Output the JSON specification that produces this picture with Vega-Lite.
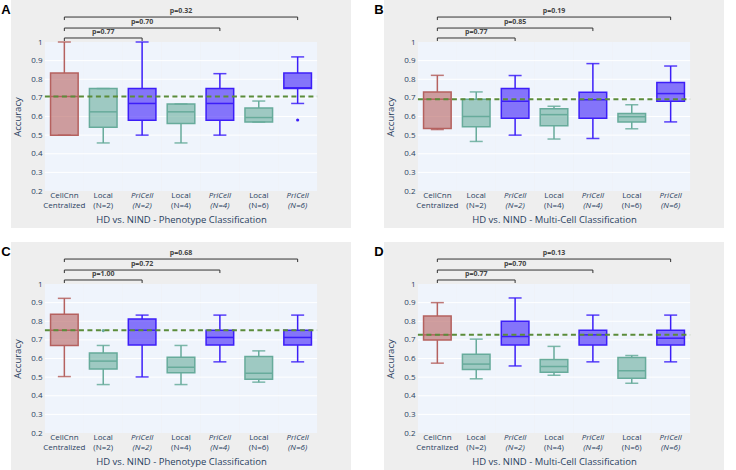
{
"$schema": "https://vega.github.io/schema/vega-lite/v6.json",
"background": "#ffffff",
"padding": {"left": 1, "top": 0, "right": 0, "bottom": 0},
"datasets": {
"boxes": [
{"panel":"A","cat":"CellCnn|Centralized","grp":"CellCnn","min":0.5,"q1":0.5,"med":0.708,"q3":0.833,"max":1.0},
{"panel":"A","cat":"Local|(N=2)","grp":"Local","min":0.458,"q1":0.542,"med":0.625,"q3":0.75,"max":0.75},
{"panel":"A","cat":"PriCell|(N=2)","grp":"PriCell","min":0.5,"q1":0.58,"med":0.67,"q3":0.75,"max":1.0},
{"panel":"A","cat":"Local|(N=4)","grp":"Local","min":0.458,"q1":0.5625,"med":0.625,"q3":0.667,"max":0.667},
{"panel":"A","cat":"PriCell|(N=4)","grp":"PriCell","min":0.5,"q1":0.58,"med":0.67,"q3":0.75,"max":0.83},
{"panel":"A","cat":"Local|(N=6)","grp":"Local","min":0.57,"q1":0.57,"med":0.594,"q3":0.645,"max":0.683},
{"panel":"A","cat":"PriCell|(N=6)","grp":"PriCell","min":0.67,"q1":0.75,"med":0.754,"q3":0.833,"max":0.92},
{"panel":"B","cat":"CellCnn|Centralized","grp":"CellCnn","min":0.53,"q1":0.536,"med":0.693,"q3":0.732,"max":0.821},
{"panel":"B","cat":"Local|(N=2)","grp":"Local","min":0.466,"q1":0.545,"med":0.6,"q3":0.693,"max":0.732},
{"panel":"B","cat":"PriCell|(N=2)","grp":"PriCell","min":0.5,"q1":0.59,"med":0.682,"q3":0.75,"max":0.82},
{"panel":"B","cat":"Local|(N=4)","grp":"Local","min":0.479,"q1":0.55,"med":0.61,"q3":0.641,"max":0.655},
{"panel":"B","cat":"PriCell|(N=4)","grp":"PriCell","min":0.482,"q1":0.59,"med":0.69,"q3":0.73,"max":0.884},
{"panel":"B","cat":"Local|(N=6)","grp":"Local","min":0.534,"q1":0.57,"med":0.598,"q3":0.616,"max":0.663},
{"panel":"B","cat":"PriCell|(N=6)","grp":"PriCell","min":0.571,"q1":0.682,"med":0.723,"q3":0.782,"max":0.871},
{"panel":"C","cat":"CellCnn|Centralized","grp":"CellCnn","min":0.503,"q1":0.67,"med":0.752,"q3":0.837,"max":0.923},
{"panel":"C","cat":"Local|(N=2)","grp":"Local","min":0.46,"q1":0.543,"med":0.586,"q3":0.63,"max":0.67},
{"panel":"C","cat":"PriCell|(N=2)","grp":"PriCell","min":0.501,"q1":0.672,"med":0.752,"q3":0.812,"max":0.833},
{"panel":"C","cat":"Local|(N=4)","grp":"Local","min":0.46,"q1":0.523,"med":0.553,"q3":0.607,"max":0.67},
{"panel":"C","cat":"PriCell|(N=4)","grp":"PriCell","min":0.582,"q1":0.672,"med":0.713,"q3":0.752,"max":0.833},
{"panel":"C","cat":"Local|(N=6)","grp":"Local","min":0.473,"q1":0.489,"med":0.521,"q3":0.611,"max":0.641},
{"panel":"C","cat":"PriCell|(N=6)","grp":"PriCell","min":0.582,"q1":0.672,"med":0.713,"q3":0.752,"max":0.833},
{"panel":"D","cat":"CellCnn|Centralized","grp":"CellCnn","min":0.575,"q1":0.699,"med":0.727,"q3":0.828,"max":0.9},
{"panel":"D","cat":"Local|(N=2)","grp":"Local","min":0.491,"q1":0.541,"med":0.57,"q3":0.623,"max":0.704},
{"panel":"D","cat":"PriCell|(N=2)","grp":"PriCell","min":0.56,"q1":0.672,"med":0.718,"q3":0.8,"max":0.925},
{"panel":"D","cat":"Local|(N=4)","grp":"Local","min":0.51,"q1":0.526,"med":0.557,"q3":0.595,"max":0.665},
{"panel":"D","cat":"PriCell|(N=4)","grp":"PriCell","min":0.582,"q1":0.672,"med":0.727,"q3":0.752,"max":0.833},
{"panel":"D","cat":"Local|(N=6)","grp":"Local","min":0.467,"q1":0.494,"med":0.534,"q3":0.605,"max":0.616},
{"panel":"D","cat":"PriCell|(N=6)","grp":"PriCell","min":0.582,"q1":0.672,"med":0.709,"q3":0.752,"max":0.833}
],
"out": [
{"panel":"A","cat":"PriCell|(N=6)","grp":"PriCell","v":0.581},
{"panel":"C","cat":"Local|(N=2)","grp":"Local","v":0.75}
],
"pv": [
{"panel":"A","from":"CellCnn|Centralized","to":"PriCell|(N=2)","mid":"Local|(N=2)","lvl":1.0215,"p":"p=0.77"},
{"panel":"A","from":"CellCnn|Centralized","to":"PriCell|(N=4)","mid":"PriCell|(N=2)","lvl":1.075,"p":"p=0.70"},
{"panel":"A","from":"CellCnn|Centralized","to":"PriCell|(N=6)","mid":"Local|(N=4)","lvl":1.134,"p":"p=0.32"},
{"panel":"B","from":"CellCnn|Centralized","to":"PriCell|(N=2)","mid":"Local|(N=2)","lvl":1.0215,"p":"p=0.77"},
{"panel":"B","from":"CellCnn|Centralized","to":"PriCell|(N=4)","mid":"PriCell|(N=2)","lvl":1.075,"p":"p=0.85"},
{"panel":"B","from":"CellCnn|Centralized","to":"PriCell|(N=6)","mid":"Local|(N=4)","lvl":1.134,"p":"p=0.19"},
{"panel":"C","from":"CellCnn|Centralized","to":"PriCell|(N=2)","mid":"Local|(N=2)","lvl":1.0215,"p":"p=1.00"},
{"panel":"C","from":"CellCnn|Centralized","to":"PriCell|(N=4)","mid":"PriCell|(N=2)","lvl":1.075,"p":"p=0.72"},
{"panel":"C","from":"CellCnn|Centralized","to":"PriCell|(N=6)","mid":"Local|(N=4)","lvl":1.134,"p":"p=0.68"},
{"panel":"D","from":"CellCnn|Centralized","to":"PriCell|(N=2)","mid":"Local|(N=2)","lvl":1.0215,"p":"p=0.77"},
{"panel":"D","from":"CellCnn|Centralized","to":"PriCell|(N=4)","mid":"PriCell|(N=2)","lvl":1.075,"p":"p=0.70"},
{"panel":"D","from":"CellCnn|Centralized","to":"PriCell|(N=6)","mid":"Local|(N=4)","lvl":1.134,"p":"p=0.13"}
],
"grid": [{"v":0.3},{"v":0.4},{"v":0.5},{"v":0.6},{"v":0.7},{"v":0.8},{"v":0.9}]
},
"concat": [
{
"width": 340, "height": 228,
"view": {"fill": "#eeeeee", "stroke": null},
"title": "A",
"data": {"name": "boxes"},
"transform": [{"filter": "datum.panel == 'A'"}],
"layer": [
{"mark": {"type": "rect", "color": "#eff4fc"},
"encoding": {
"x": {"field": "cat", "type": "nominal", "scale": {"type": "band", "domain": ["CellCnn|Centralized","Local|(N=2)","PriCell|(N=2)","Local|(N=4)","PriCell|(N=4)","Local|(N=6)","PriCell|(N=6)"], "paddingInner": 0, "paddingOuter": 0.872},
"axis": {"title": "HD vs. NIND -  Phenotype Classification", "labelExpr": "split(datum.label, '|')", "labelFontStyle": {"condition": {"test": "indexof(datum.label, 'PriCell') == 0", "value": "italic"}, "value": "normal"}}},
"y": {"datum": 0.2, "type": "quantitative", "scale": {"domain": [0.2, 1], "range": [191, 42], "nice": false, "zero": false}, "axis": {"title": "Accuracy", "tickCount": 8, "format": ".1~f", "labelOverlap": false}},
"y2": {"datum": 1}}},
{"data": {"name": "grid"},
"mark": {"type": "rule", "color": "#ffffff", "strokeWidth": 1},
"encoding": {
"x": {"datum": "CellCnn|Centralized", "bandPosition": 0},
"x2": {"datum": "PriCell|(N=6)", "bandPosition": 1},
"y": {"field": "v", "type": "quantitative"}}},
{"encoding": {"x": {"field": "cat", "type": "nominal"}, "color": {"field": "grp", "type": "nominal", "scale": {"domain": ["CellCnn","Local","PriCell"], "range": ["#b5615f","#67ab9b","#3c1ef8"]}, "legend": null}},
"layer": [
{"mark": {"type": "rule", "strokeWidth": 1.5}, "encoding": {"y": {"field": "min", "type": "quantitative"}, "y2": {"field": "q1"}}},
{"mark": {"type": "rule", "strokeWidth": 1.5}, "encoding": {"y": {"field": "q3", "type": "quantitative"}, "y2": {"field": "max"}}},
{"mark": {"type": "tick", "size": 13, "thickness": 1.5, "opacity": 0.85}, "encoding": {"y": {"field": "min", "type": "quantitative"}}},
{"mark": {"type": "tick", "size": 13, "thickness": 1.5, "opacity": 0.85}, "encoding": {"y": {"field": "max", "type": "quantitative"}}},
{"mark": {"type": "bar", "width": {"band": 0.71}, "fillOpacity": 0.6, "strokeWidth": 1.5}, "encoding": {"y": {"field": "q1", "type": "quantitative"}, "y2": {"field": "q3"}, "stroke": {"field": "grp", "type": "nominal", "scale": {"domain": ["CellCnn","Local","PriCell"], "range": ["#b5615f","#67ab9b","#3c1ef8"]}, "legend": null}}},
{"mark": {"type": "tick", "size": 27.6, "thickness": 1.5, "opacity": 1}, "encoding": {"y": {"field": "med", "type": "quantitative"}}}
]},
{"data": {"name": "out"}, "transform": [{"filter": "datum.panel == 'A'"}],
"mark": {"type": "circle", "size": 10, "opacity": 1},
"encoding": {"x": {"field": "cat", "type": "nominal"}, "y": {"field": "v", "type": "quantitative"}, "color": {"field": "grp", "type": "nominal", "legend": null}}},
{"transform": [{"filter": "datum.grp == 'CellCnn'"}],
"mark": {"type": "rule", "color": "#5b8c3a", "strokeWidth": 2, "strokeDash": [5, 3.5]},
"encoding": {"x": {"datum": "CellCnn|Centralized", "bandPosition": 0}, "x2": {"datum": "PriCell|(N=6)", "bandPosition": 1}, "y": {"field": "med", "type": "quantitative"}}},
{"data": {"name": "pv"}, "transform": [{"filter": "datum.panel == 'A'"}],
"layer": [
{"mark": {"type": "rule", "color": "#333333", "strokeWidth": 1},
"encoding": {"x": {"field": "from", "type": "nominal"}, "x2": {"field": "to"}, "y": {"field": "lvl", "type": "quantitative"}}},
{"mark": {"type": "rule", "color": "#333333", "strokeWidth": 1, "y2Offset": 3},
"encoding": {"x": {"field": "from", "type": "nominal"}, "y": {"field": "lvl", "type": "quantitative"}, "y2": {"field": "lvl"}}},
{"mark": {"type": "rule", "color": "#333333", "strokeWidth": 1, "y2Offset": 3},
"encoding": {"x": {"field": "to", "type": "nominal"}, "y": {"field": "lvl", "type": "quantitative"}, "y2": {"field": "lvl"}}},
{"mark": {"type": "text", "fontSize": 7, "fontWeight": "bold", "color": "#444444", "baseline": "bottom", "dy": -3},
"encoding": {"x": {"field": "mid", "type": "nominal"}, "y": {"field": "lvl", "type": "quantitative"}, "text": {"field": "p"}}}
]}
]
},
{
"width": 340, "height": 228,
"view": {"fill": "#eeeeee", "stroke": null},
"title": "B",
"data": {"name": "boxes"},
"transform": [{"filter": "datum.panel == 'B'"}],
"layer": [
{"mark": {"type": "rect", "color": "#eff4fc"},
"encoding": {
"x": {"field": "cat", "type": "nominal", "scale": {"type": "band", "domain": ["CellCnn|Centralized","Local|(N=2)","PriCell|(N=2)","Local|(N=4)","PriCell|(N=4)","Local|(N=6)","PriCell|(N=6)"], "paddingInner": 0, "paddingOuter": 0.872},
"axis": {"title": "HD vs. NIND -  Multi-Cell Classification", "labelExpr": "split(datum.label, '|')", "labelFontStyle": {"condition": {"test": "indexof(datum.label, 'PriCell') == 0", "value": "italic"}, "value": "normal"}}},
"y": {"datum": 0.2, "type": "quantitative", "scale": {"domain": [0.2, 1], "range": [191, 42], "nice": false, "zero": false}, "axis": {"title": "Accuracy", "tickCount": 8, "format": ".1~f", "labelOverlap": false}},
"y2": {"datum": 1}}},
{"data": {"name": "grid"},
"mark": {"type": "rule", "color": "#ffffff", "strokeWidth": 1},
"encoding": {
"x": {"datum": "CellCnn|Centralized", "bandPosition": 0},
"x2": {"datum": "PriCell|(N=6)", "bandPosition": 1},
"y": {"field": "v", "type": "quantitative"}}},
{"encoding": {"x": {"field": "cat", "type": "nominal"}, "color": {"field": "grp", "type": "nominal", "scale": {"domain": ["CellCnn","Local","PriCell"], "range": ["#b5615f","#67ab9b","#3c1ef8"]}, "legend": null}},
"layer": [
{"mark": {"type": "rule", "strokeWidth": 1.5}, "encoding": {"y": {"field": "min", "type": "quantitative"}, "y2": {"field": "q1"}}},
{"mark": {"type": "rule", "strokeWidth": 1.5}, "encoding": {"y": {"field": "q3", "type": "quantitative"}, "y2": {"field": "max"}}},
{"mark": {"type": "tick", "size": 13, "thickness": 1.5, "opacity": 0.85}, "encoding": {"y": {"field": "min", "type": "quantitative"}}},
{"mark": {"type": "tick", "size": 13, "thickness": 1.5, "opacity": 0.85}, "encoding": {"y": {"field": "max", "type": "quantitative"}}},
{"mark": {"type": "bar", "width": {"band": 0.71}, "fillOpacity": 0.6, "strokeWidth": 1.5}, "encoding": {"y": {"field": "q1", "type": "quantitative"}, "y2": {"field": "q3"}, "stroke": {"field": "grp", "type": "nominal", "scale": {"domain": ["CellCnn","Local","PriCell"], "range": ["#b5615f","#67ab9b","#3c1ef8"]}, "legend": null}}},
{"mark": {"type": "tick", "size": 27.6, "thickness": 1.5, "opacity": 1}, "encoding": {"y": {"field": "med", "type": "quantitative"}}}
]},
{"data": {"name": "out"}, "transform": [{"filter": "datum.panel == 'B'"}],
"mark": {"type": "circle", "size": 10, "opacity": 1},
"encoding": {"x": {"field": "cat", "type": "nominal"}, "y": {"field": "v", "type": "quantitative"}, "color": {"field": "grp", "type": "nominal", "legend": null}}},
{"transform": [{"filter": "datum.grp == 'CellCnn'"}],
"mark": {"type": "rule", "color": "#5b8c3a", "strokeWidth": 2, "strokeDash": [5, 3.5]},
"encoding": {"x": {"datum": "CellCnn|Centralized", "bandPosition": 0}, "x2": {"datum": "PriCell|(N=6)", "bandPosition": 1}, "y": {"field": "med", "type": "quantitative"}}},
{"data": {"name": "pv"}, "transform": [{"filter": "datum.panel == 'B'"}],
"layer": [
{"mark": {"type": "rule", "color": "#333333", "strokeWidth": 1},
"encoding": {"x": {"field": "from", "type": "nominal"}, "x2": {"field": "to"}, "y": {"field": "lvl", "type": "quantitative"}}},
{"mark": {"type": "rule", "color": "#333333", "strokeWidth": 1, "y2Offset": 3},
"encoding": {"x": {"field": "from", "type": "nominal"}, "y": {"field": "lvl", "type": "quantitative"}, "y2": {"field": "lvl"}}},
{"mark": {"type": "rule", "color": "#333333", "strokeWidth": 1, "y2Offset": 3},
"encoding": {"x": {"field": "to", "type": "nominal"}, "y": {"field": "lvl", "type": "quantitative"}, "y2": {"field": "lvl"}}},
{"mark": {"type": "text", "fontSize": 7, "fontWeight": "bold", "color": "#444444", "baseline": "bottom", "dy": -3},
"encoding": {"x": {"field": "mid", "type": "nominal"}, "y": {"field": "lvl", "type": "quantitative"}, "text": {"field": "p"}}}
]}
]
},
{
"width": 340, "height": 228,
"view": {"fill": "#eeeeee", "stroke": null},
"title": "C",
"data": {"name": "boxes"},
"transform": [{"filter": "datum.panel == 'C'"}],
"layer": [
{"mark": {"type": "rect", "color": "#eff4fc"},
"encoding": {
"x": {"field": "cat", "type": "nominal", "scale": {"type": "band", "domain": ["CellCnn|Centralized","Local|(N=2)","PriCell|(N=2)","Local|(N=4)","PriCell|(N=4)","Local|(N=6)","PriCell|(N=6)"], "paddingInner": 0, "paddingOuter": 0.872},
"axis": {"title": "HD vs. NIND -  Phenotype Classification", "labelExpr": "split(datum.label, '|')", "labelFontStyle": {"condition": {"test": "indexof(datum.label, 'PriCell') == 0", "value": "italic"}, "value": "normal"}}},
"y": {"datum": 0.2, "type": "quantitative", "scale": {"domain": [0.2, 1], "range": [191, 42], "nice": false, "zero": false}, "axis": {"title": "Accuracy", "tickCount": 8, "format": ".1~f", "labelOverlap": false}},
"y2": {"datum": 1}}},
{"data": {"name": "grid"},
"mark": {"type": "rule", "color": "#ffffff", "strokeWidth": 1},
"encoding": {
"x": {"datum": "CellCnn|Centralized", "bandPosition": 0},
"x2": {"datum": "PriCell|(N=6)", "bandPosition": 1},
"y": {"field": "v", "type": "quantitative"}}},
{"encoding": {"x": {"field": "cat", "type": "nominal"}, "color": {"field": "grp", "type": "nominal", "scale": {"domain": ["CellCnn","Local","PriCell"], "range": ["#b5615f","#67ab9b","#3c1ef8"]}, "legend": null}},
"layer": [
{"mark": {"type": "rule", "strokeWidth": 1.5}, "encoding": {"y": {"field": "min", "type": "quantitative"}, "y2": {"field": "q1"}}},
{"mark": {"type": "rule", "strokeWidth": 1.5}, "encoding": {"y": {"field": "q3", "type": "quantitative"}, "y2": {"field": "max"}}},
{"mark": {"type": "tick", "size": 13, "thickness": 1.5, "opacity": 0.85}, "encoding": {"y": {"field": "min", "type": "quantitative"}}},
{"mark": {"type": "tick", "size": 13, "thickness": 1.5, "opacity": 0.85}, "encoding": {"y": {"field": "max", "type": "quantitative"}}},
{"mark": {"type": "bar", "width": {"band": 0.71}, "fillOpacity": 0.6, "strokeWidth": 1.5}, "encoding": {"y": {"field": "q1", "type": "quantitative"}, "y2": {"field": "q3"}, "stroke": {"field": "grp", "type": "nominal", "scale": {"domain": ["CellCnn","Local","PriCell"], "range": ["#b5615f","#67ab9b","#3c1ef8"]}, "legend": null}}},
{"mark": {"type": "tick", "size": 27.6, "thickness": 1.5, "opacity": 1}, "encoding": {"y": {"field": "med", "type": "quantitative"}}}
]},
{"data": {"name": "out"}, "transform": [{"filter": "datum.panel == 'C'"}],
"mark": {"type": "circle", "size": 10, "opacity": 1},
"encoding": {"x": {"field": "cat", "type": "nominal"}, "y": {"field": "v", "type": "quantitative"}, "color": {"field": "grp", "type": "nominal", "legend": null}}},
{"transform": [{"filter": "datum.grp == 'CellCnn'"}],
"mark": {"type": "rule", "color": "#5b8c3a", "strokeWidth": 2, "strokeDash": [5, 3.5]},
"encoding": {"x": {"datum": "CellCnn|Centralized", "bandPosition": 0}, "x2": {"datum": "PriCell|(N=6)", "bandPosition": 1}, "y": {"field": "med", "type": "quantitative"}}},
{"data": {"name": "pv"}, "transform": [{"filter": "datum.panel == 'C'"}],
"layer": [
{"mark": {"type": "rule", "color": "#333333", "strokeWidth": 1},
"encoding": {"x": {"field": "from", "type": "nominal"}, "x2": {"field": "to"}, "y": {"field": "lvl", "type": "quantitative"}}},
{"mark": {"type": "rule", "color": "#333333", "strokeWidth": 1, "y2Offset": 3},
"encoding": {"x": {"field": "from", "type": "nominal"}, "y": {"field": "lvl", "type": "quantitative"}, "y2": {"field": "lvl"}}},
{"mark": {"type": "rule", "color": "#333333", "strokeWidth": 1, "y2Offset": 3},
"encoding": {"x": {"field": "to", "type": "nominal"}, "y": {"field": "lvl", "type": "quantitative"}, "y2": {"field": "lvl"}}},
{"mark": {"type": "text", "fontSize": 7, "fontWeight": "bold", "color": "#444444", "baseline": "bottom", "dy": -3},
"encoding": {"x": {"field": "mid", "type": "nominal"}, "y": {"field": "lvl", "type": "quantitative"}, "text": {"field": "p"}}}
]}
]
},
{
"width": 340, "height": 228,
"view": {"fill": "#eeeeee", "stroke": null},
"title": "D",
"data": {"name": "boxes"},
"transform": [{"filter": "datum.panel == 'D'"}],
"layer": [
{"mark": {"type": "rect", "color": "#eff4fc"},
"encoding": {
"x": {"field": "cat", "type": "nominal", "scale": {"type": "band", "domain": ["CellCnn|Centralized","Local|(N=2)","PriCell|(N=2)","Local|(N=4)","PriCell|(N=4)","Local|(N=6)","PriCell|(N=6)"], "paddingInner": 0, "paddingOuter": 0.872},
"axis": {"title": "HD vs. NIND -  Multi-Cell Classification", "labelExpr": "split(datum.label, '|')", "labelFontStyle": {"condition": {"test": "indexof(datum.label, 'PriCell') == 0", "value": "italic"}, "value": "normal"}}},
"y": {"datum": 0.2, "type": "quantitative", "scale": {"domain": [0.2, 1], "range": [191, 42], "nice": false, "zero": false}, "axis": {"title": "Accuracy", "tickCount": 8, "format": ".1~f", "labelOverlap": false}},
"y2": {"datum": 1}}},
{"data": {"name": "grid"},
"mark": {"type": "rule", "color": "#ffffff", "strokeWidth": 1},
"encoding": {
"x": {"datum": "CellCnn|Centralized", "bandPosition": 0},
"x2": {"datum": "PriCell|(N=6)", "bandPosition": 1},
"y": {"field": "v", "type": "quantitative"}}},
{"encoding": {"x": {"field": "cat", "type": "nominal"}, "color": {"field": "grp", "type": "nominal", "scale": {"domain": ["CellCnn","Local","PriCell"], "range": ["#b5615f","#67ab9b","#3c1ef8"]}, "legend": null}},
"layer": [
{"mark": {"type": "rule", "strokeWidth": 1.5}, "encoding": {"y": {"field": "min", "type": "quantitative"}, "y2": {"field": "q1"}}},
{"mark": {"type": "rule", "strokeWidth": 1.5}, "encoding": {"y": {"field": "q3", "type": "quantitative"}, "y2": {"field": "max"}}},
{"mark": {"type": "tick", "size": 13, "thickness": 1.5, "opacity": 0.85}, "encoding": {"y": {"field": "min", "type": "quantitative"}}},
{"mark": {"type": "tick", "size": 13, "thickness": 1.5, "opacity": 0.85}, "encoding": {"y": {"field": "max", "type": "quantitative"}}},
{"mark": {"type": "bar", "width": {"band": 0.71}, "fillOpacity": 0.6, "strokeWidth": 1.5}, "encoding": {"y": {"field": "q1", "type": "quantitative"}, "y2": {"field": "q3"}, "stroke": {"field": "grp", "type": "nominal", "scale": {"domain": ["CellCnn","Local","PriCell"], "range": ["#b5615f","#67ab9b","#3c1ef8"]}, "legend": null}}},
{"mark": {"type": "tick", "size": 27.6, "thickness": 1.5, "opacity": 1}, "encoding": {"y": {"field": "med", "type": "quantitative"}}}
]},
{"data": {"name": "out"}, "transform": [{"filter": "datum.panel == 'D'"}],
"mark": {"type": "circle", "size": 10, "opacity": 1},
"encoding": {"x": {"field": "cat", "type": "nominal"}, "y": {"field": "v", "type": "quantitative"}, "color": {"field": "grp", "type": "nominal", "legend": null}}},
{"transform": [{"filter": "datum.grp == 'CellCnn'"}],
"mark": {"type": "rule", "color": "#5b8c3a", "strokeWidth": 2, "strokeDash": [5, 3.5]},
"encoding": {"x": {"datum": "CellCnn|Centralized", "bandPosition": 0}, "x2": {"datum": "PriCell|(N=6)", "bandPosition": 1}, "y": {"field": "med", "type": "quantitative"}}},
{"data": {"name": "pv"}, "transform": [{"filter": "datum.panel == 'D'"}],
"layer": [
{"mark": {"type": "rule", "color": "#333333", "strokeWidth": 1},
"encoding": {"x": {"field": "from", "type": "nominal"}, "x2": {"field": "to"}, "y": {"field": "lvl", "type": "quantitative"}}},
{"mark": {"type": "rule", "color": "#333333", "strokeWidth": 1, "y2Offset": 3},
"encoding": {"x": {"field": "from", "type": "nominal"}, "y": {"field": "lvl", "type": "quantitative"}, "y2": {"field": "lvl"}}},
{"mark": {"type": "rule", "color": "#333333", "strokeWidth": 1, "y2Offset": 3},
"encoding": {"x": {"field": "to", "type": "nominal"}, "y": {"field": "lvl", "type": "quantitative"}, "y2": {"field": "lvl"}}},
{"mark": {"type": "text", "fontSize": 7, "fontWeight": "bold", "color": "#444444", "baseline": "bottom", "dy": -3},
"encoding": {"x": {"field": "mid", "type": "nominal"}, "y": {"field": "lvl", "type": "quantitative"}, "text": {"field": "p"}}}
]}
]
}
],
"columns": 2,
"spacing": {"row": 14, "column": 33},
"bounds": "flush",
"config": {
"font": "Open Sans",
"view": {"stroke": null},
"title": {"orient": "left", "anchor": "end", "angle": 0, "align": "right", "baseline": "top", "offset": 1, "dx": 10, "dy": 4, "fontSize": 13, "fontWeight": "bold", "font": "Liberation Sans", "color": "#000000"},
"axis": {"labelFont": "Open Sans", "titleFont": "Open Sans", "labelColor": "#2a3f5f", "titleColor": "#2a3f5f", "labelFontSize": 8, "titleFontSize": 9.5, "titleFontWeight": "normal", "domain": false, "ticks": false, "tickSize": 0, "grid": false},
"axisX": {"offset": -37, "labelAngle": 0, "labelPadding": 0, "titlePadding": 5, "labelLineHeight": 10},
"axisY": {"offset": -34, "labelPadding": 3, "titlePadding": 8}
}
}
